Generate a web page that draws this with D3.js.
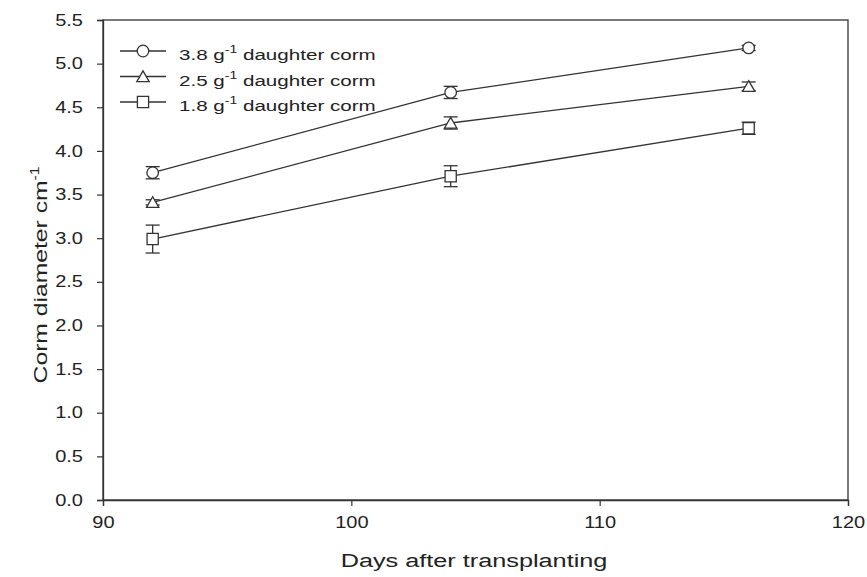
<!DOCTYPE html>
<html><head><meta charset="utf-8">
<script src="https://cdn.jsdelivr.net/npm/d3@7"></script>
<style>body{margin:0;background:#fff}svg{display:block}text{font-family:"Liberation Sans",Arial,sans-serif;fill:#222}</style>
</head><body><svg id="c" width="867" height="577"></svg>
<script>
const days = [92, 104, 116];
const seriesNames = ["3.8", "2.5", "1.8"];
const seriesSymbols = ["circle", "triangle", "square"];
const values38 = [3.75, 4.67, 5.18];
const errors38 = [0.07, 0.07, 0.03];
const values25 = [3.41, 4.32, 4.74];
const errors25 = [0.03, 0.07, 0.05];
const values18 = [2.99, 3.71, 4.26];
const errors18 = [0.16, 0.12, 0.07];
const xTicks = [90, 100, 110, 120];
const yTicks = [0, 0.5, 1, 1.5, 2, 2.5, 3, 3.5, 4, 4.5, 5, 5.5];

const series = [
  {name: seriesNames[0], sym: seriesSymbols[0], v: values38, e: errors38},
  {name: seriesNames[1], sym: seriesSymbols[1], v: values25, e: errors25},
  {name: seriesNames[2], sym: seriesSymbols[2], v: values18, e: errors18}
];

const svg = d3.select("#c");
const L = 103, R = 848, T = 20, B = 500;
const x = d3.scaleLinear().domain([90, 120]).range([L, R]);
const y = d3.scaleLinear().domain([0, 5.5]).range([B, T]);
const col = "#333";
const SX = 1.25;

svg.append("rect").attr("x", L).attr("y", T).attr("width", R - L).attr("height", B - T)
  .attr("fill", "none").attr("stroke", col).attr("stroke-width", 1.3);

const xa = svg.append("g").attr("transform", `translate(0,${B})`)
  .call(d3.axisBottom(x).tickValues(xTicks).tickSize(6).tickPadding(11).tickFormat(d3.format("d")));
const ya = svg.append("g").attr("transform", `translate(${L},0)`)
  .call(d3.axisLeft(y).tickValues(yTicks).tickSize(6).tickPadding(14).tickFormat(d3.format(".1f")));
[xa, ya].forEach(a => {
  a.select(".domain").attr("stroke", col).attr("stroke-width", 1.3);
  a.selectAll(".tick line").attr("stroke", col).attr("stroke-width", 1.2);
  a.selectAll(".tick text").attr("font-size", 16).attr("fill", "#222")
    .attr("font-family", '"Liberation Sans",Arial,sans-serif')
    .each(function() {
      const t = d3.select(this);
      const tx = +t.attr("x") || 0, ty = +t.attr("y") || 0;
      t.attr("x", 0).attr("y", 0).attr("transform", `translate(${tx},${ty}) scale(${SX},1)`);
    });
});

svg.append("text").attr("transform", `translate(474,567) scale(1.33,1)`).attr("text-anchor", "middle")
  .attr("font-size", 19).text("Days after transplanting");
const yt = svg.append("text").attr("transform", `translate(47,275) rotate(-90) scale(1.3,1)`)
  .attr("text-anchor", "middle").attr("font-size", 19);
yt.append("tspan").text("Corm diameter cm");
yt.append("tspan").attr("dy", -8).attr("font-size", 12).text("-1");

const symMap = {circle: d3.symbolCircle, triangle: d3.symbolTriangle, square: d3.symbolSquare};
const symSize = {circle: 105, triangle: 66, square: 125};
const sym = s => d3.symbol().type(symMap[s]).size(symSize[s])();

const line = d3.line().x((d, i) => x(days[i])).y(d => y(d));
series.forEach(s => {
  svg.append("path").attr("d", line(s.v)).attr("fill", "none").attr("stroke", col).attr("stroke-width", 1.3);
  const g = svg.append("g");
  s.v.forEach((v, i) => {
    const cx = x(days[i]);
    const y1 = y(v + s.e[i]), y2 = y(v - s.e[i]);
    g.append("line").attr("x1", cx).attr("x2", cx).attr("y1", y1).attr("y2", y2).attr("stroke", col).attr("stroke-width", 1.3);
    [y1, y2].forEach(yy => g.append("line").attr("x1", cx - 7).attr("x2", cx + 7).attr("y1", yy).attr("y2", yy).attr("stroke", col).attr("stroke-width", 1.3));
    g.append("path").attr("d", sym(s.sym)).attr("transform", `translate(${cx},${y(v) + (s.sym === "triangle" ? 1.5 : 0)})`)
      .attr("fill", "#fff").attr("stroke", col).attr("stroke-width", 1.3);
  });
});

const lg = svg.append("g");
series.forEach((s, i) => {
  const yy = 51 + i * 25.5;
  lg.append("line").attr("x1", 120).attr("x2", 166).attr("y1", yy).attr("y2", yy).attr("stroke", col).attr("stroke-width", 1.3);
  lg.append("path").attr("d", sym(s.sym)).attr("transform", `translate(143,${yy + (s.sym === "triangle" ? 1.5 : 0)})`)
    .attr("fill", "#fff").attr("stroke", col).attr("stroke-width", 1.3);
  const t = lg.append("text").attr("transform", `translate(179,${yy + 9}) scale(1.33,1)`).attr("font-size", 15.5);
  t.append("tspan").text(s.name + " g");
  t.append("tspan").attr("dy", -7).attr("font-size", 10.5).text("-1");
  t.append("tspan").attr("dy", 7).text(" daughter corm");
});
</script></body></html>
